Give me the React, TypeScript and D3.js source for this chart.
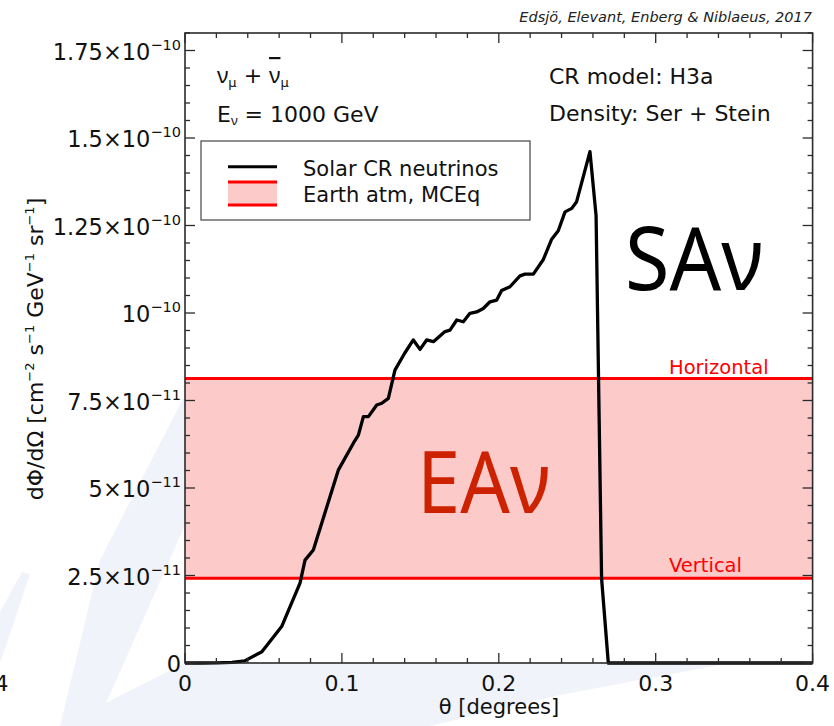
import React from "react";
import * as d3 from "d3";

// ---- data ----
const thetaDeg = [0, 0.01, 0.02, 0.03, 0.038, 0.049, 0.0616, 0.0733, 0.0765, 0.0818, 0.0924, 0.0977, 0.1073, 0.1105, 0.1137, 0.1169, 0.1222, 0.1254, 0.1296, 0.1338, 0.1400, 0.1455, 0.1498, 0.154, 0.1583, 0.1657, 0.1689, 0.1732, 0.1774, 0.1816, 0.1859, 0.1901, 0.1944, 0.1987, 0.2018, 0.2071, 0.2135, 0.2167, 0.222, 0.2284, 0.2337, 0.2379, 0.2422, 0.2465, 0.2496, 0.2581, 0.262, 0.2655, 0.2698, 0.3, 0.35, 0.4];
const solarFlux = [0, 0, 0.0005e-10, 0.002e-10, 0.006e-10, 0.032e-10, 0.104e-10, 0.228e-10, 0.294e-10, 0.323e-10, 0.475e-10, 0.551e-10, 0.628e-10, 0.651e-10, 0.704e-10, 0.704e-10, 0.737e-10, 0.742e-10, 0.756e-10, 0.837e-10, 0.885e-10, 0.923e-10, 0.896e-10, 0.923e-10, 0.918e-10, 0.947e-10, 0.951e-10, 0.98e-10, 0.975e-10, 0.999e-10, 1.003e-10, 1.013e-10, 1.032e-10, 1.037e-10, 1.064e-10, 1.075e-10, 1.106e-10, 1.111e-10, 1.111e-10, 1.153e-10, 1.211e-10, 1.235e-10, 1.289e-10, 1.299e-10, 1.318e-10, 1.461e-10, 1.278e-10, 0.242e-10, 0, 0, 0, 0];

const earthHorizontal = 8.13e-11;
const earthVertical = 2.42e-11;

const xTickValues = [0, 0.1, 0.2, 0.3, 0.4];
const xTickLabels = ["0", "0.1", "0.2", "0.3", "0.4"];
const yTickValues = [0, 2.5e-11, 5e-11, 7.5e-11, 1e-10, 1.25e-10, 1.5e-10, 1.75e-10];
const yTickMantissas = ["0", "2.5×10", "5×10", "7.5×10", "10", "1.25×10", "1.5×10", "1.75×10"];
const yTickExponents = ["", "−11", "−11", "−11", "−10", "−10", "−10", "−10"];

const FONT = "'DejaVu Sans', sans-serif";
const NU_FONT = "'Noto Sans', 'Open Sans', sans-serif";

export default function App() {
  const left = 185, right = 812.6, top = 33, bottom = 663;
  const x = d3.scaleLinear().domain([0, 0.4]).range([left, right]);
  const y = d3.scaleLinear().domain([0, 1.8e-10]).range([bottom, top]);

  const pts: [number, number][] = thetaDeg.map((t, i) => [t, solarFlux[i]]);
  const line = d3.line<[number, number]>().x(d => x(d[0])).y(d => y(d[1]));

  const xMinor = d3.range(0, 0.4001, 0.02);
  const yMinor = d3.range(0, 1.8e-10 + 1e-14, 5e-12);
  const axisColor = "#2b2b2b";

  const wm = "#f0f3f9";

  return (
    <svg width={834} height={726} style={{ position: "absolute", left: 0, top: 0, background: "#fff" }}>
      {/* faint background watermark */}
      <g fill={wm}>
        <path d="M185,395 L185,525 L96,726 L60,726 L100,560 Z" />
        <path d="M22,572 L30,574 L8,640 L0,662 L0,612 Z" />
        <path d="M60,726 L185,663 L730,663 L560,695 L430,726 Z" />
      </g>
      {/* plot background */}
      <rect x={left} y={top} width={right - left} height={bottom - top} fill="#fff" />

      {/* Earth band */}
      <rect x={left} y={y(earthHorizontal)} width={right - left} height={y(earthVertical) - y(earthHorizontal)} fill="#fdcaca" />
      <line x1={left} x2={right} y1={y(earthHorizontal)} y2={y(earthHorizontal)} stroke="#ff0000" strokeWidth={3} />
      <line x1={left} x2={right} y1={y(earthVertical)} y2={y(earthVertical)} stroke="#ff0000" strokeWidth={3} />
      <text x={669} y={373.5} fontFamily={FONT} fontSize={19.5} fill="#ff0000">Horizontal</text>
      <text x={669} y={571.5} fontFamily={FONT} fontSize={19.5} fill="#ff0000">Vertical</text>

      {/* big labels */}
      <text x={625} y={290} fontFamily={NU_FONT} fontSize={88} fill="#000" textLength={138} lengthAdjust="spacingAndGlyphs">SAν</text>
      <text x={417} y={513} fontFamily={NU_FONT} fontSize={86} fill="#cc2200" textLength={133} lengthAdjust="spacingAndGlyphs">EAν</text>

      {/* solar curve */}
      <path d={line(pts) || ""} fill="none" stroke="#000" strokeWidth={3.3} strokeLinejoin="round" />

      {/* frame */}
      <rect x={left} y={top} width={right - left} height={bottom - top} fill="none" stroke={axisColor} strokeWidth={1.6} />

      {/* ticks */}
      <g stroke={axisColor} strokeWidth={1.3}>
        {xMinor.map((v, i) => {
          const major = i % 5 === 0;
          const L = major ? 10 : 5;
          return (
            <g key={"xt" + i}>
              <line x1={x(v)} x2={x(v)} y1={bottom} y2={bottom - L} />
              <line x1={x(v)} x2={x(v)} y1={top} y2={top + L} />
            </g>
          );
        })}
        {yMinor.map((v, i) => {
          const major = i % 5 === 0;
          const L = major ? 10 : 5;
          return (
            <g key={"yt" + i}>
              <line x1={left} x2={left + L} y1={y(v)} y2={y(v)} />
              <line x1={right} x2={right - L} y1={y(v)} y2={y(v)} />
            </g>
          );
        })}
      </g>

      {/* x tick labels */}
      {xTickValues.map((v, i) => (
        <text key={"xl" + i} x={x(v)} y={691} textAnchor="middle" fontFamily={FONT} fontSize={22} fill="#111">{xTickLabels[i]}</text>
      ))}
      {/* cropped neighbouring panel label */}
      <text x={8.5} y={691} textAnchor="end" fontFamily={FONT} fontSize={22} fill="#111">{xTickLabels[4]}</text>

      {/* y tick labels */}
      {yTickValues.map((v, i) => (
        <text key={"yl" + i} x={181} y={y(v) + 9} textAnchor="end" fontFamily={FONT} fontSize={22.5} fill="#111">
          <tspan>{yTickMantissas[i]}</tspan>
          {yTickExponents[i] && <tspan fontSize={14.5} dy={-10}>{yTickExponents[i]}</tspan>}
        </text>
      ))}

      {/* axis labels */}
      <text x={499} y={714} textAnchor="middle" fontFamily={FONT} fontSize={21} fill="#111">θ [degrees]</text>
      <text transform="translate(43,349) rotate(-90)" textAnchor="middle" fontFamily={FONT} fontSize={22} fill="#111">
        <tspan>dΦ/dΩ [cm</tspan>
        <tspan fontSize={13} dy={-9}>−2</tspan>
        <tspan dy={9}> s</tspan>
        <tspan fontSize={13} dy={-9}>−1</tspan>
        <tspan dy={9}> GeV</tspan>
        <tspan fontSize={13} dy={-9}>−1</tspan>
        <tspan dy={9}> sr</tspan>
        <tspan fontSize={13} dy={-9}>−1</tspan>
        <tspan dy={9}>]</tspan>
      </text>

      {/* citation */}
      <text x={812} y={22} textAnchor="end" fontFamily={FONT} fontStyle="italic" fontSize={14.5} fill="#222">Edsjö, Elevant, Enberg &amp; Niblaeus, 2017</text>

      {/* annotations */}
      <text x={217} y={83} fontFamily={FONT} fontSize={22} fill="#111">
        <tspan fontFamily={NU_FONT}>ν</tspan><tspan fontSize={13} dy={4}>μ</tspan><tspan dy={-4}> + </tspan>
        <tspan fontFamily={NU_FONT} textDecoration="overline">ν</tspan><tspan fontSize={13} dy={4}>μ</tspan>
      </text>
      <text x={217} y={121.5} fontFamily={FONT} fontSize={22} fill="#111">
        <tspan>E</tspan><tspan fontFamily={NU_FONT} fontSize={13} dy={3}>ν</tspan><tspan dy={-3}> = 1000 GeV</tspan>
      </text>
      <text x={549} y={83.5} fontFamily={FONT} fontSize={22} fill="#111">CR model: H3a</text>
      <text x={549} y={121} fontFamily={FONT} fontSize={22} fill="#111">Density: Ser + Stein</text>

      {/* legend */}
      <rect x={201} y={141} width={329} height={79} fill="#fff" stroke="#444" strokeWidth={1.2} />
      <line x1={228} x2={277} y1={166.7} y2={166.7} stroke="#000" strokeWidth={3} />
      <rect x={228} y={182} width={49} height={23} fill="#fdcaca" />
      <line x1={228} x2={277} y1={182} y2={182} stroke="#ff0000" strokeWidth={3} />
      <line x1={228} x2={277} y1={205} y2={205} stroke="#ff0000" strokeWidth={3} />
      <text x={303} y={176} fontFamily={FONT} fontSize={21} fill="#111">Solar CR neutrinos</text>
      <text x={303} y={202} fontFamily={FONT} fontSize={21} fill="#111">Earth atm, MCEq</text>
    </svg>
  );
}
